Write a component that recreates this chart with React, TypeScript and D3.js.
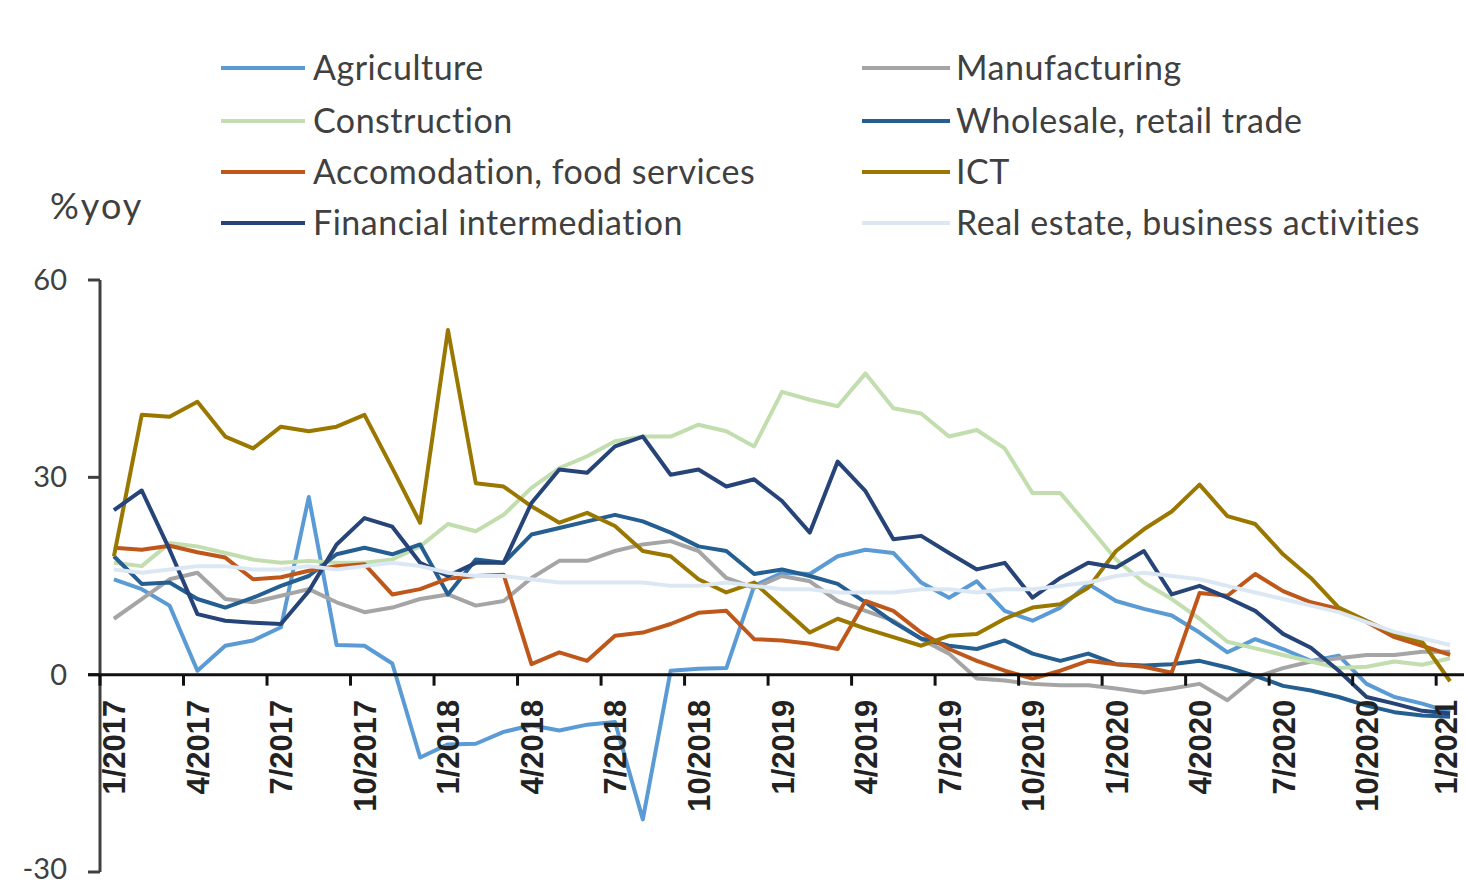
import React from 'react';
import * as d3 from 'd3';

const months = [
  '1/2017','2/2017','3/2017','4/2017','5/2017','6/2017','7/2017','8/2017','9/2017','10/2017','11/2017','12/2017',
  '1/2018','2/2018','3/2018','4/2018','5/2018','6/2018','7/2018','8/2018','9/2018','10/2018','11/2018','12/2018',
  '1/2019','2/2019','3/2019','4/2019','5/2019','6/2019','7/2019','8/2019','9/2019','10/2019','11/2019','12/2019',
  '1/2020','2/2020','3/2020','4/2020','5/2020','6/2020','7/2020','8/2020','9/2020','10/2020','11/2020','12/2020',
  '1/2021'
];

const yTicks = [-30, 0, 30, 60];

const agriculture = [14.5, 13, 10.5, 0.6, 4.4, 5.2, 7.2, 27, 4.5, 4.4, 1.7, -12.6,
  -10.6, -10.5, -8.7, -7.7, -8.5, -7.6, -7.2, -22, 0.6, 0.9, 1, 13.5,
  15.5, 15.3, 18, 19, 18.5, 14, 11.7, 14.2, 9.7, 8.2, 10.2, 13.8,
  11.2, 10, 9, 6.4, 3.4, 5.4, 3.9, 2.1, 2.9, -1.4, -3.4, -4.4, -5.7];

const manufacturing = [8.5, 11.5, 14.5, 15.5, 11.5, 11, 12, 13, 11, 9.5, 10.2, 11.5,
  12.2, 10.5, 11.2, 14.7, 17.3, 17.3, 18.8, 19.8, 20.3, 18.8, 14.7, 13.2,
  15, 14.2, 11.2, 9.7, 8.2, 5.4, 3.2, -0.6, -0.9, -1.4, -1.6, -1.6,
  -2.1, -2.7, -2.1, -1.4, -3.9, -0.4, 1, 2, 2.5, 3, 3, 3.5, 3.5];

const construction = [17, 16.5, 20, 19.5, 18.5, 17.5, 17, 17.3, 17, 17, 17.5, 19.5,
  22.9, 21.8, 24.3, 28.4, 31.4, 33.2, 35.5, 36.2, 36.2, 38, 37, 34.7,
  43, 41.8, 40.8, 45.8, 40.5, 39.7, 36.2, 37.2, 34.4, 27.6, 27.6, 22.6,
  17.5, 14, 11.5, 8.5, 5, 4, 3, 2, 1, 1.2, 2, 1.5, 2.5];

const wholesale = [18, 13.8, 14, 11.5, 10.2, 11.7, 13.5, 15, 18.3, 19.3, 18.3, 19.8,
  12.2, 17.5, 17, 21.3, 22.3, 23.3, 24.3, 23.3, 21.6, 19.5, 18.8, 15.3,
  16, 15, 13.8, 11, 8, 5.5, 4.4, 3.9, 5.2, 3.2, 2.1, 3.2,
  1.6, 1.4, 1.6, 2.1, 1.1, -0.2, -1.7, -2.4, -3.4, -4.7, -5.7, -6.2, -6.4];

const accommodation = [19.3, 19, 19.6, 18.6, 17.8, 14.5, 14.8, 15.8, 16.5, 16.8, 12.2, 13,
  14.6, 15, 15.2, 1.6, 3.4, 2.1, 5.9, 6.4, 7.7, 9.4, 9.7, 5.4,
  5.2, 4.7, 3.9, 11.2, 9.7, 6.4, 3.9, 2.1, 0.6, -0.6, 0.6, 2.1,
  1.6, 1.2, 0.3, 12.4, 12, 15.3, 12.7, 11, 10, 8, 5.7, 4.4, 3];

const ict = [18, 39.5, 39.2, 41.5, 36.2, 34.4, 37.7, 37, 37.7, 39.5, 31.4, 23.1,
  52.4, 29.1, 28.6, 25.6, 23.1, 24.6, 22.6, 18.8, 18, 14.5, 12.5, 14,
  10.2, 6.4, 8.5, 7, 5.7, 4.4, 5.9, 6.2, 8.5, 10.2, 10.7, 13.2,
  18.8, 22.1, 24.8, 28.9, 24.1, 22.9, 18.3, 14.7, 10.2, 8.2, 6.2, 5, -1];

const financial = [25, 28, 19, 9.2, 8.2, 7.9, 7.7, 12.7, 19.8, 23.8, 22.5, 17,
  15, 17, 17, 26.1, 31.2, 30.7, 34.7, 36.2, 30.4, 31.2, 28.6, 29.7,
  26.4, 21.6, 32.4, 27.9, 20.6, 21.1, 18.5, 16, 17, 11.7, 14.7, 17,
  16.3, 18.8, 12.2, 13.5, 11.7, 9.7, 6.2, 4.1, 0.6, -3.4, -4.4, -5.5, -5.9];

const realEstate = [16, 15.5, 16, 16.5, 16.5, 16, 16, 16.5, 16, 16.5, 17, 16.5,
  15.5, 15, 15, 14.5, 14, 14, 14, 14, 13.5, 13.5, 14, 13.5,
  13, 13, 12.5, 12.5, 12.5, 13, 13, 12.5, 13, 13, 13.5, 14,
  15, 15.5, 15, 14.5, 13.5, 12.5, 11.5, 10.5, 9.5, 8, 6.5, 5.5, 4.5];

const seriesNames = [
  'Agriculture', 'Manufacturing', 'Construction', 'Wholesale, retail trade',
  'Accomodation, food services', 'ICT', 'Financial intermediation', 'Real estate, business activities'
];
const seriesValues = [agriculture, manufacturing, construction, wholesale, accommodation, ict, financial, realEstate];
const seriesColors = ['#5B9BD5', '#A5A5A5', '#C2DEAE', '#255E91', '#C0571A', '#9A7800', '#264478', '#DCE7F4'];

export default function App() {
  const W = 1466;
  const H = 885;
  const x = d3.scaleBand<string>().domain(months).range([100, 1464]).padding(0);
  const y = d3.scaleLinear().domain([-30, 60]).range([872, 280]);
  const cx = (i: number) => (x(months[i]) as number) + x.bandwidth() / 2;
  const line = d3.line<number>().x((_, i) => cx(i)).y(d => y(d));

  const font = 'Lato, "Open Sans", sans-serif';
  const legendRows = [68, 121, 172, 223];

  return (
    <svg width={W} height={H} style={{ position: 'absolute', left: 0, top: 0, background: '#fff' }}>
      {/* legend */}
      {seriesNames.map((name, k) => {
        const col = k % 2;
        const row = Math.floor(k / 2);
        const x0 = col === 0 ? 221 : 862;
        const x1 = col === 0 ? 305 : 950;
        const tx = col === 0 ? 313 : 956;
        const cy = legendRows[row];
        return (
          <g key={name}>
            <line x1={x0} x2={x1} y1={cy} y2={cy} stroke={seriesColors[k]} strokeWidth={4} />
            <text x={tx} y={cy + 12} fontFamily={font} fontSize={34} letterSpacing={0.5} fill="#404040">{name}</text>
          </g>
        );
      })}
      <text x={50} y={219} fontFamily={font} fontSize={36} letterSpacing={2} fill="#404040">%yoy</text>

      {/* y axis */}
      <line x1={100} x2={100} y1={y(60)} y2={y(-30)} stroke="#404040" strokeWidth={3} />
      {yTicks.map(t => (
        <g key={t}>
          <line x1={88} x2={100} y1={y(t)} y2={y(t)} stroke="#404040" strokeWidth={3} />
          <text x={67} y={y(t) + (t === -30 ? 7 : 10)} textAnchor="end" fontFamily={font} fontSize={29} fill="#404040">{t}</text>
        </g>
      ))}

      {/* series */}
      {seriesValues.map((vals, k) => (
        <path key={k} d={line(vals) || ''} fill="none" stroke={seriesColors[k]} strokeWidth={4} strokeLinejoin="round" />
      ))}

      {/* x axis */}
      <line x1={88} x2={1464} y1={y(0)} y2={y(0)} stroke="#111" strokeWidth={3} />
      {months.map((m, i) => i % 3 === 0 ? (
        <g key={m}>
          <line x1={x(m) as number} x2={x(m) as number} y1={y(0)} y2={y(0) + 11} stroke="#111" strokeWidth={3} />
          <text transform={`translate(${Math.min(cx(i) + 1, 1446)},${y(0) + 25}) rotate(-90)`} textAnchor="end" dominantBaseline="central"
            fontFamily='"Liberation Sans", Arial, sans-serif' fontWeight="bold" fontSize={31} fill="#222">{m}</text>
        </g>
      ) : null)}
    </svg>
  );
}
